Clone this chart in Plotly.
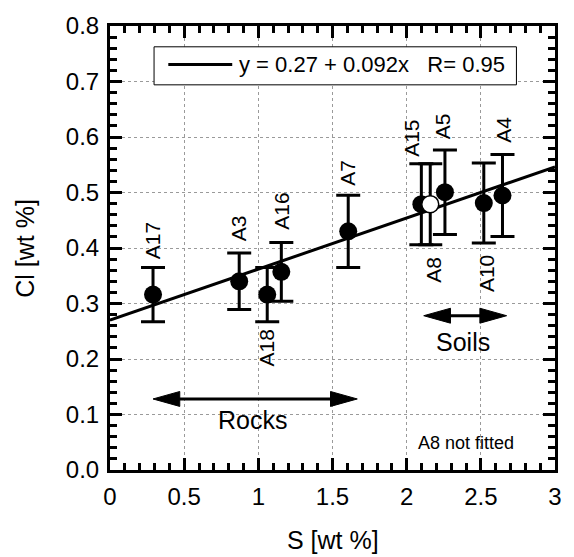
import plotly.graph_objects as go

# ---- data ----
samples = ["A17", "A3", "A18", "A16", "A7", "A15", "A5", "A10", "A4"]
s_wt = [0.29, 0.871, 1.06, 1.155, 1.606, 2.099, 2.258, 2.52, 2.646]
cl_wt = [0.316, 0.340, 0.316, 0.357, 0.430, 0.479, 0.5005, 0.481, 0.4946]
cl_err = [0.049, 0.051, 0.049, 0.053, 0.065, 0.073, 0.076, 0.072, 0.074]

excluded_name = ["A8"]
excluded_s = [2.159]
excluded_cl = [0.479]
excluded_err = [0.073]

fit_intercept = 0.27
fit_slope = 0.092
fit_r = 0.95
fit_x = [0.0, 3.0]

label_names = ["A17", "A3", "A18", "A16", "A7", "A15", "A8", "A5", "A10", "A4"]
label_x = [0.283, 0.865, 1.056, 1.159, 1.600, 2.037, 2.185, 2.247, 2.535, 2.656]
label_y = [0.414, 0.436, 0.220, 0.467, 0.536, 0.597, 0.361, 0.620, 0.353, 0.613]

group_names = ["Rocks", "Soils"]
group_x0 = [0.29, 2.115]
group_x1 = [1.667, 2.674]
group_y = [0.128, 0.278]
group_text_x = [0.959, 2.38]
group_text_y = [0.091, 0.231]

X_RANGE = [0, 3]
Y_RANGE = [0, 0.8]
W, H = 574, 557
ML, MR, MT, MB = 110, 15, 24, 87
FONT = "Liberation Sans, Arial, sans-serif"

# pixel -> data conversion for arrowhead geometry
px_per_x = (W - ML - MR) / (X_RANGE[1] - X_RANGE[0])
px_per_y = (H - MT - MB) / (Y_RANGE[1] - Y_RANGE[0])
head_len = 27 / px_per_x
head_half = 7.5 / px_per_y

fig = go.Figure()

fit_y = [fit_intercept + fit_slope * x for x in fit_x]
fig.add_trace(go.Scatter(x=fit_x, y=fit_y, mode="lines",
                         line=dict(color="black", width=3), showlegend=False,
                         hoverinfo="skip"))

fig.add_trace(go.Scatter(
    x=s_wt, y=cl_wt, mode="markers", text=samples,
    marker=dict(color="black", size=18),
    error_y=dict(type="data", array=cl_err, color="black", thickness=3, width=12),
    showlegend=False))

fig.add_trace(go.Scatter(
    x=excluded_s, y=excluded_cl, mode="markers", text=excluded_name,
    marker=dict(color="white", size=17, line=dict(color="black", width=1.5)),
    error_y=dict(type="data", array=excluded_err, color="black", thickness=3, width=12),
    showlegend=False))

annotations = []
for name, lx, ly in zip(label_names, label_x, label_y):
    annotations.append(dict(x=lx, y=ly, xref="x", yref="y", text=name,
                            showarrow=False, textangle=-90,
                            font=dict(family=FONT, size=21, color="black")))

shapes = []
for name, x0, x1, gy, tx, ty in zip(group_names, group_x0, group_x1, group_y,
                                     group_text_x, group_text_y):
    shapes.append(dict(type="line", xref="x", yref="y", x0=x0 + head_len / 2,
                       x1=x1 - head_len / 2, y0=gy, y1=gy,
                       line=dict(color="black", width=3)))
    shapes.append(dict(type="path", xref="x", yref="y",
                       path="M%f,%f L%f,%f L%f,%f Z" % (x0, gy, x0 + head_len, gy + head_half,
                                                       x0 + head_len, gy - head_half),
                       fillcolor="black", line=dict(color="black", width=1)))
    shapes.append(dict(type="path", xref="x", yref="y",
                       path="M%f,%f L%f,%f L%f,%f Z" % (x1, gy, x1 - head_len, gy + head_half,
                                                       x1 - head_len, gy - head_half),
                       fillcolor="black", line=dict(color="black", width=1)))
    annotations.append(dict(x=tx, y=ty, xref="x", yref="y", text=name,
                            showarrow=False,
                            font=dict(family=FONT, size=25, color="black")))

annotations.append(dict(x=2.402, y=0.049, xref="x", yref="y", text="A8 not fitted",
                        showarrow=False, font=dict(family=FONT, size=18, color="black")))

shapes.append(dict(type="rect", xref="x", yref="y", x0=0.297, x1=2.74, y0=0.694, y1=0.7625,
                   fillcolor="white", line=dict(color="black", width=1)))
shapes.append(dict(type="line", xref="x", yref="y", x0=0.393, x1=0.824, y0=0.7305, y1=0.7305,
                   line=dict(color="black", width=3)))
legend_text = "y = %.2f + %.3fx\u00a0\u00a0\u00a0R= %.2f" % (fit_intercept, fit_slope, fit_r)
annotations.append(dict(x=0.855, y=0.7305, xref="x", yref="y", text=legend_text,
                        showarrow=False, xanchor="left",
                        font=dict(family=FONT, size=22, color="black")))

# axis titles
annotations.append(dict(x=0.5, y=-(540 - (H - MB)) / (H - MT - MB), xref="paper", yref="paper",
                        text="S [wt %]", showarrow=False, xanchor="center", yanchor="middle",
                        font=dict(family=FONT, size=25, color="black")))
annotations.append(dict(x=-(ML - 24) / (W - ML - MR), y=0.5, xref="paper", yref="paper",
                        text="Cl [wt %]", showarrow=False, textangle=-90,
                        xanchor="center", yanchor="middle",
                        font=dict(family=FONT, size=25, color="black")))

axis_common = dict(showline=True, linewidth=3, linecolor="black", mirror="allticks",
                   ticks="inside", tickwidth=3, ticklen=12, tickcolor="black",
                   showgrid=True, gridcolor="#9a9a9a", gridwidth=1, griddash="3px,3px",
                   zeroline=False, ticklabelstandoff=3,
                   tickfont=dict(family=FONT, size=24, color="black"))

fig.update_xaxes(range=X_RANGE, dtick=0.5, tick0=0,
                 minor=dict(dtick=0.1, ticks="inside", ticklen=7, tickwidth=2.5,
                            tickcolor="black", showgrid=False),
                 **axis_common)
fig.update_yaxes(range=Y_RANGE, dtick=0.1, tick0=0, tickformat=".1f",
                 minor=dict(dtick=0.02, ticks="inside", ticklen=7, tickwidth=2.5,
                            tickcolor="black", showgrid=False),
                 **axis_common)

fig.update_layout(width=W, height=H, margin=dict(l=ML, r=MR, t=MT, b=MB),
                  plot_bgcolor="white", paper_bgcolor="white",
                  shapes=shapes, annotations=annotations, showlegend=False,
                  font=dict(family=FONT, color="black"))

fig.write_html("out.html")
